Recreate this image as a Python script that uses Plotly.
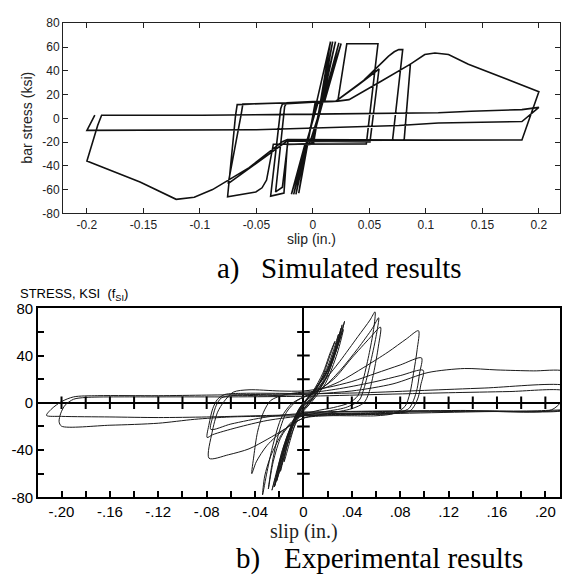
import plotly.graph_objects as go

# ---------------- data: (a) simulated ----------------
sim_path = [
    (0.0, 0.0), (0.008, 32.0), (0.0156, 64.5),
    (0.0005, -21.5), (-0.0055, -22.5), (-0.0125, -63.0),
    (0.0019, 12.5), (0.0079, 14.0), (0.0175, 64.5),
    (-0.0004, -21.5), (-0.0064, -22.5), (-0.015, -64.0),
    (0.0025, 12.5), (0.0085, 14.0), (0.020, 64.5),
    (-0.0009, -21.5), (-0.0069, -22.5), (-0.017, -64.0),
    (0.0037, 12.5), (0.0097, 14.0), (0.023, 63.5),
    (-0.0012, -21.5), (-0.0072, -22.5), (-0.019, -64.0),
    (0.0043, 12.5), (0.0103, 14.0), (0.025, 63.0),
    (-0.003, -21.5), (-0.0226, -22.0), (-0.0256, -63.0), (-0.0374, -65.5),
    (-0.0285, 8.0), (-0.027, 12.0), (0.0, 13.5), (0.022, 14.3),
    (0.030, 62.7), (0.0576, 62.7),
    (0.0473, -21.5), (-0.035, -21.8),
    (-0.041, -52.0), (-0.045, -58.5), (-0.0505, -62.0), (-0.0755, -66.0),
    (-0.0685, 2.0), (-0.067, 11.5), (-0.04, 12.5), (0.0, 13.5), (0.02, 14.2),
    (0.04, 28.0), (0.0585, 41.5),
    (0.0505, -20.0), (-0.0226, -19.0),
    (-0.04, -31.0), (-0.06, -45.0), (-0.075, -55.0),
    (-0.0636, 2.6), (-0.062, 12.0), (0.0, 13.6), (0.02, 14.2),
    (0.045, 32.0), (0.067, 52.4), (0.072, 56.0), (0.076, 57.8), (0.0795, 57.8),
    (0.0705, -18.5), (-0.022, -18.6),
    (-0.027, -58.0), (-0.033, -62.0),
    (-0.025, 10.0), (-0.023, 13.0), (0.0, 14.2), (0.022, 14.5), (0.032, 15.7),
    (0.06, 31.0), (0.0863, 45.6), (0.0808, -18.0), (0.0863, 45.6),
    (0.099, 53.7), (0.108, 55.0), (0.12, 53.7), (0.1376, 45.5), (0.2, 22.4),
    (0.185, -18.2), (0.1, -18.4), (-0.0226, -17.8), (-0.027, -19.7),
    (-0.0564, -41.5), (-0.0888, -60.0), (-0.105, -66.5), (-0.121, -68.2),
    (-0.153, -53.7), (-0.2, -36.0),
    (-0.1905, -6.0), (-0.187, 2.6), (-0.098, 2.6), (0.0, 3.5), (0.076, 4.0),
    (0.111, 4.7), (0.14, 6.0), (0.185, 7.3), (0.2, 9.2),
    (0.185, -2.7), (0.111, -4.0), (0.076, -6.0), (-0.05, -9.6), (-0.2, -10.2),
    (-0.193, 2.6),
]

sim_xticks = [-0.2, -0.15, -0.1, -0.05, 0, 0.05, 0.1, 0.15, 0.2]
sim_xlabels = ["-0.2", "-0.15", "-0.1", "-0.05", "0", "0.05", "0.1", "0.15", "0.2"]
sim_yticks = [-80, -60, -40, -20, 0, 20, 40, 60, 80]
sim_ylabels = ["-80", "-60", "-40", "-20", "0", "20", "40", "60", "80"]

# ---------------- data: (b) experimental ----------------
exp_center = [
    (0.0, 0.0), (0.008, 10), (0.016, 25), (0.022, 42), (0.026, 52),
    (0.022, 40), (0.014, 18), (0.005, 3), (-0.003, -6), (-0.009, -20), (-0.014, -38), (-0.016, -50),
    (-0.011, -32), (-0.005, -12), (0.002, 1), (0.01, 12), (0.019, 28), (0.025, 45), (0.029, 58),
    (0.025, 42), (0.016, 18), (0.006, 3), (-0.003, -7), (-0.011, -24), (-0.016, -42), (-0.019, -58),
    (-0.014, -38), (-0.007, -15), (0.001, 0), (0.01, 11), (0.02, 28), (0.027, 48), (0.031, 63),
    (0.027, 46), (0.018, 20), (0.007, 3), (-0.002, -8), (-0.012, -26), (-0.018, -46), (-0.022, -66),
    (-0.016, -42), (-0.009, -18), (-0.001, -2), (0.008, 9), (0.019, 25), (0.028, 47), (0.034, 69),
    (0.029, 50), (0.02, 24), (0.009, 5), (0.0, -6), (-0.01, -20), (-0.018, -42), (-0.024, -71),
    (-0.018, -45), (-0.01, -20), (-0.002, -3), (0.007, 8), (0.018, 24), (0.027, 46), (0.032, 66),
    (0.027, 44), (0.017, 17), (0.006, 2), (-0.004, -10), (-0.013, -30), (-0.02, -52), (-0.026, -74),
    (-0.02, -50), (-0.012, -24), (-0.003, -4), (0.006, 7), (0.017, 22), (0.026, 42), (0.033, 62),
    (0.028, 42), (0.018, 16), (0.007, 1), (-0.003, -11), (-0.012, -32), (-0.019, -56), (-0.024, -71),
]
exp_mid = [
    (-0.024, -71), (-0.018, -48), (-0.011, -22), (-0.004, -6), (0.004, 4), (0.015, 16),
    (0.03, 35), (0.045, 56), (0.055, 70), (0.0592, 77),
    (0.058, 62), (0.054, 40), (0.049, 18), (0.045, 6), (0.038, 0), (0.025, -4), (0.01, -7),
    (-0.005, -12), (-0.017, -25), (-0.027, -45), (-0.032, -62), (-0.0338, -78),
    (-0.03, -58), (-0.025, -35), (-0.018, -12), (-0.01, -1), (0.0, 5), (0.015, 12),
    (0.03, 27), (0.045, 46), (0.057, 63), (0.0622, 72),
    (0.06, 56), (0.055, 32), (0.05, 12), (0.046, 2), (0.035, -4), (0.015, -8),
    (-0.005, -13), (-0.018, -28), (-0.025, -50), (-0.029, -73),
    (-0.026, -52), (-0.021, -28), (-0.014, -8), (-0.005, 2), (0.008, 8), (0.025, 20),
    (0.04, 38), (0.055, 55), (0.0637, 64),
    (0.062, 48), (0.058, 25), (0.054, 8), (0.05, 0), (0.04, -5), (0.02, -9), (0.0, -13),
    (-0.015, -22), (-0.03, -36), (-0.039, -50), (-0.0427, -60),
    (-0.041, -45), (-0.038, -25), (-0.033, -8), (-0.027, 2), (-0.015, 7), (0.0, 9),
]
exp_large = [
    (0.0, 9), (0.01, 10), (0.03, 18), (0.05, 30), (0.07, 43), (0.085, 54), (0.0951, 61),
    (0.094, 45), (0.091, 25), (0.088, 8), (0.084, -3), (0.075, -9), (0.06, -11), (0.04, -11),
    (0.02, -11), (0.0, -13), (-0.015, -22), (-0.03, -31), (-0.045, -39), (-0.062, -44), (-0.078, -47),
    (-0.0755, -25), (-0.071, -8), (-0.0657, 1), (-0.058, 9), (-0.045, 11), (-0.02, 10), (0.0, 10),
    (0.02, 13), (0.04, 18), (0.06, 25), (0.08, 32), (0.0976, 38),
    (0.096, 25), (0.094, 12), (0.091, 2), (0.087, -5), (0.075, -9), (0.05, -10), (0.02, -10),
    (0.0, -11), (-0.03, -15), (-0.055, -21), (-0.075, -27), (-0.0796, -29.4),
    (-0.078, -18), (-0.075, -5), (-0.071, 3), (-0.065, 7), (-0.05, 8), (-0.02, 8), (0.0, 8),
    (0.03, 12), (0.06, 18), (0.08, 23), (0.099, 27.5),
    (0.097, 15), (0.095, 5), (0.092, -2), (0.088, -7), (0.07, -9), (0.04, -9), (0.0, -9),
    (-0.03, -12), (-0.06, -18), (-0.0766, -22.5),
    (-0.075, -12), (-0.072, -2), (-0.068, 4), (-0.06, 6), (-0.03, 6), (0.0, 7),
]
exp_far = [
    (0.0, 7), (0.04, 10), (0.074, 16), (0.103, 25.6), (0.133, 29), (0.16, 27.8),
    (0.19, 27), (0.215, 27), (0.225, 20),
    (0.224, 0), (0.218, -6), (0.15, -7), (0.08, -8), (0.03, -9), (0.0, -10), (-0.04, -11),
    (-0.08, -12), (-0.12, -12.5), (-0.16, -12), (-0.2, -11.5), (-0.2124, -10.7),
    (-0.208, -5), (-0.2, 1), (-0.19, 5), (-0.17, 6), (-0.12, 6), (-0.08, 6.5), (-0.04, 7),
    (0.0, 7.5), (0.05, 8.5), (0.1, 10.5), (0.15, 12.5), (0.215, 15), (0.225, 10),
    (0.222, -3), (0.212, -6.5), (0.15, -7.5), (0.08, -9), (0.0, -11), (-0.06, -12),
    (-0.09, -14), (-0.12, -17.3), (-0.16, -19), (-0.2, -19.8), (-0.202, -16), (-0.2006, -8.8),
    (-0.197, -2), (-0.19, 3), (-0.18, 4.5), (-0.12, 5), (-0.06, 5), (0.0, 5.5), (0.06, 7),
    (0.12, 8.5), (0.17, 9.5), (0.215, 10.5), (0.225, 5),
    (0.222, -4), (0.2, -6.5), (0.12, -7), (0.05, -7.5), (0.0, -8), (0.06, -7), (0.13, -6.5),
    (0.205, -6), (0.215, 3),
]

exp_xticks = [-0.20, -0.18, -0.16, -0.14, -0.12, -0.10, -0.08, -0.06, -0.04, -0.02, 0.0,
              0.02, 0.04, 0.06, 0.08, 0.10, 0.12, 0.14, 0.16, 0.18, 0.20]
exp_xlabels = ["-.20", "", "-.16", "", "-.12", "", "-.08", "", "-.04", "", "0",
               "", ".04", "", ".08", "", ".12", "", ".16", "", ".20"]
exp_yticks = [-80, -60, -40, -20, 0, 20, 40, 60, 80]
exp_ylabels = ["-80", "", "-40", "", "0", "", "40", "", "80"]
exp_zero_ticks_x = [-0.20, -0.18, -0.16, -0.14, -0.12, -0.10, -0.08, -0.06, -0.04, -0.02,
                    0.02, 0.04, 0.06, 0.08, 0.10, 0.12, 0.14, 0.16, 0.18, 0.20]
exp_vline_ticks_y = [-60, -40, -20, 20, 40, 60]

# ---------------- figure ----------------
W, H = 562, 581
fig = go.Figure()

fig.add_trace(go.Scatter(
    x=[p[0] for p in sim_path], y=[p[1] for p in sim_path],
    mode="lines", line=dict(color="#111111", width=1.6),
    xaxis="x", yaxis="y", hoverinfo="skip"))

for seg in (exp_center, exp_mid, exp_large, exp_far):
    fig.add_trace(go.Scatter(
        x=[p[0] for p in seg], y=[p[1] for p in seg],
        mode="lines", line=dict(color="#1a1a1a", width=1, shape="spline", smoothing=0.8),
        xaxis="x2", yaxis="y2", hoverinfo="skip"))

fig.add_trace(go.Scatter(
    x=exp_zero_ticks_x, y=[0] * len(exp_zero_ticks_x), mode="markers",
    marker=dict(symbol="line-ns", size=9, line=dict(color="black", width=2)),
    xaxis="x2", yaxis="y2", hoverinfo="skip"))
fig.add_trace(go.Scatter(
    x=[0] * len(exp_vline_ticks_y), y=exp_vline_ticks_y, mode="markers",
    marker=dict(symbol="line-ew", size=9, line=dict(color="black", width=2)),
    xaxis="x2", yaxis="y2", hoverinfo="skip"))

top_font = dict(family="Liberation Sans, Arial", size=12, color="#222222")
bot_font = dict(family="Liberation Sans, Arial", size=15, color="black")

fig.update_layout(
    width=W, height=H, margin=dict(l=0, r=0, t=0, b=0),
    paper_bgcolor="white", plot_bgcolor="white", showlegend=False,
    xaxis=dict(domain=[63.3 / W, 1.0], range=[-0.2211, 0.2187], anchor="y",
               tickvals=sim_xticks, ticktext=sim_xlabels, ticks="inside", ticklen=5,
               tickcolor="#222", showline=True, linecolor="#222", linewidth=1,
               mirror="ticks", showgrid=False, zeroline=False, tickfont=top_font),
    yaxis=dict(domain=[1 - 210.5 / H, 1 - 14.7 / H], range=[-80, 80], anchor="x",
               tickvals=sim_yticks, ticktext=sim_ylabels, ticks="inside", ticklen=5,
               tickcolor="#222", showline=True, linecolor="#222", linewidth=1,
               mirror="ticks", showgrid=False, zeroline=False, tickfont=top_font),
    xaxis2=dict(domain=[38.3 / W, 1.0], range=[-0.2193, 0.2121], anchor="y2",
                tickvals=exp_xticks, ticktext=exp_xlabels, ticks="inside", ticklen=6,
                tickwidth=2, tickcolor="black", showline=True, linecolor="black",
                linewidth=2, mirror=True, showgrid=False, zeroline=True,
                zerolinecolor="black", zerolinewidth=2, tickfont=bot_font),
    yaxis2=dict(domain=[1 - 503 / H, 1 - 308.3 / H], range=[-80, 80], anchor="x2",
                tickvals=exp_yticks, ticktext=exp_ylabels, ticks="inside", ticklen=6,
                tickwidth=2, tickcolor="black", showline=True, linecolor="black",
                linewidth=2, mirror=True, showgrid=False, zeroline=True,
                zerolinecolor="black", zerolinewidth=2, tickfont=bot_font),
)

serif = "Liberation Serif, Times New Roman, serif"
ann = [
    dict(text="bar stress (ksi)", x=27 / W, y=1 - 112 / H, textangle=-90,
         font=dict(family="Liberation Sans, Arial", size=14, color="#222")),
    dict(text="slip (in.)", x=313 / W, y=1 - 237 / H,
         font=dict(family="Liberation Sans, Arial", size=14, color="#222")),
    dict(text="a)", x=216 / W, y=1 - 267 / H, xanchor="left",
         font=dict(family=serif, size=29, color="black")),
    dict(text="Simulated results", x=260 / W, y=1 - 267 / H, xanchor="left",
         font=dict(family=serif, size=29, color="black")),
    dict(text="STRESS, KSI  (f<sub>SI</sub>)", x=18 / W, y=1 - 294 / H, xanchor="left",
         font=dict(family="Liberation Sans, Arial", size=13, color="black")),
    dict(text="slip (in.)", x=305 / W, y=1 - 538 / H,
         font=dict(family=serif, size=20, color="#222")),
    dict(text="b)", x=235 / W, y=1 - 566 / H, xanchor="left",
         font=dict(family=serif, size=29, color="black")),
    dict(text="Experimental results", x=283 / W, y=1 - 566 / H, xanchor="left",
         font=dict(family=serif, size=29, color="black")),
]
for a in ann:
    a.update(xref="paper", yref="paper", showarrow=False)
    a.setdefault("xanchor", "center")
    a.setdefault("yanchor", "middle")
fig.update_layout(annotations=ann)

fig.write_html("out.html", config={"displayModeBar": False},
               post_script="document.body.style.margin='0px';document.body.style.padding='0px';")
